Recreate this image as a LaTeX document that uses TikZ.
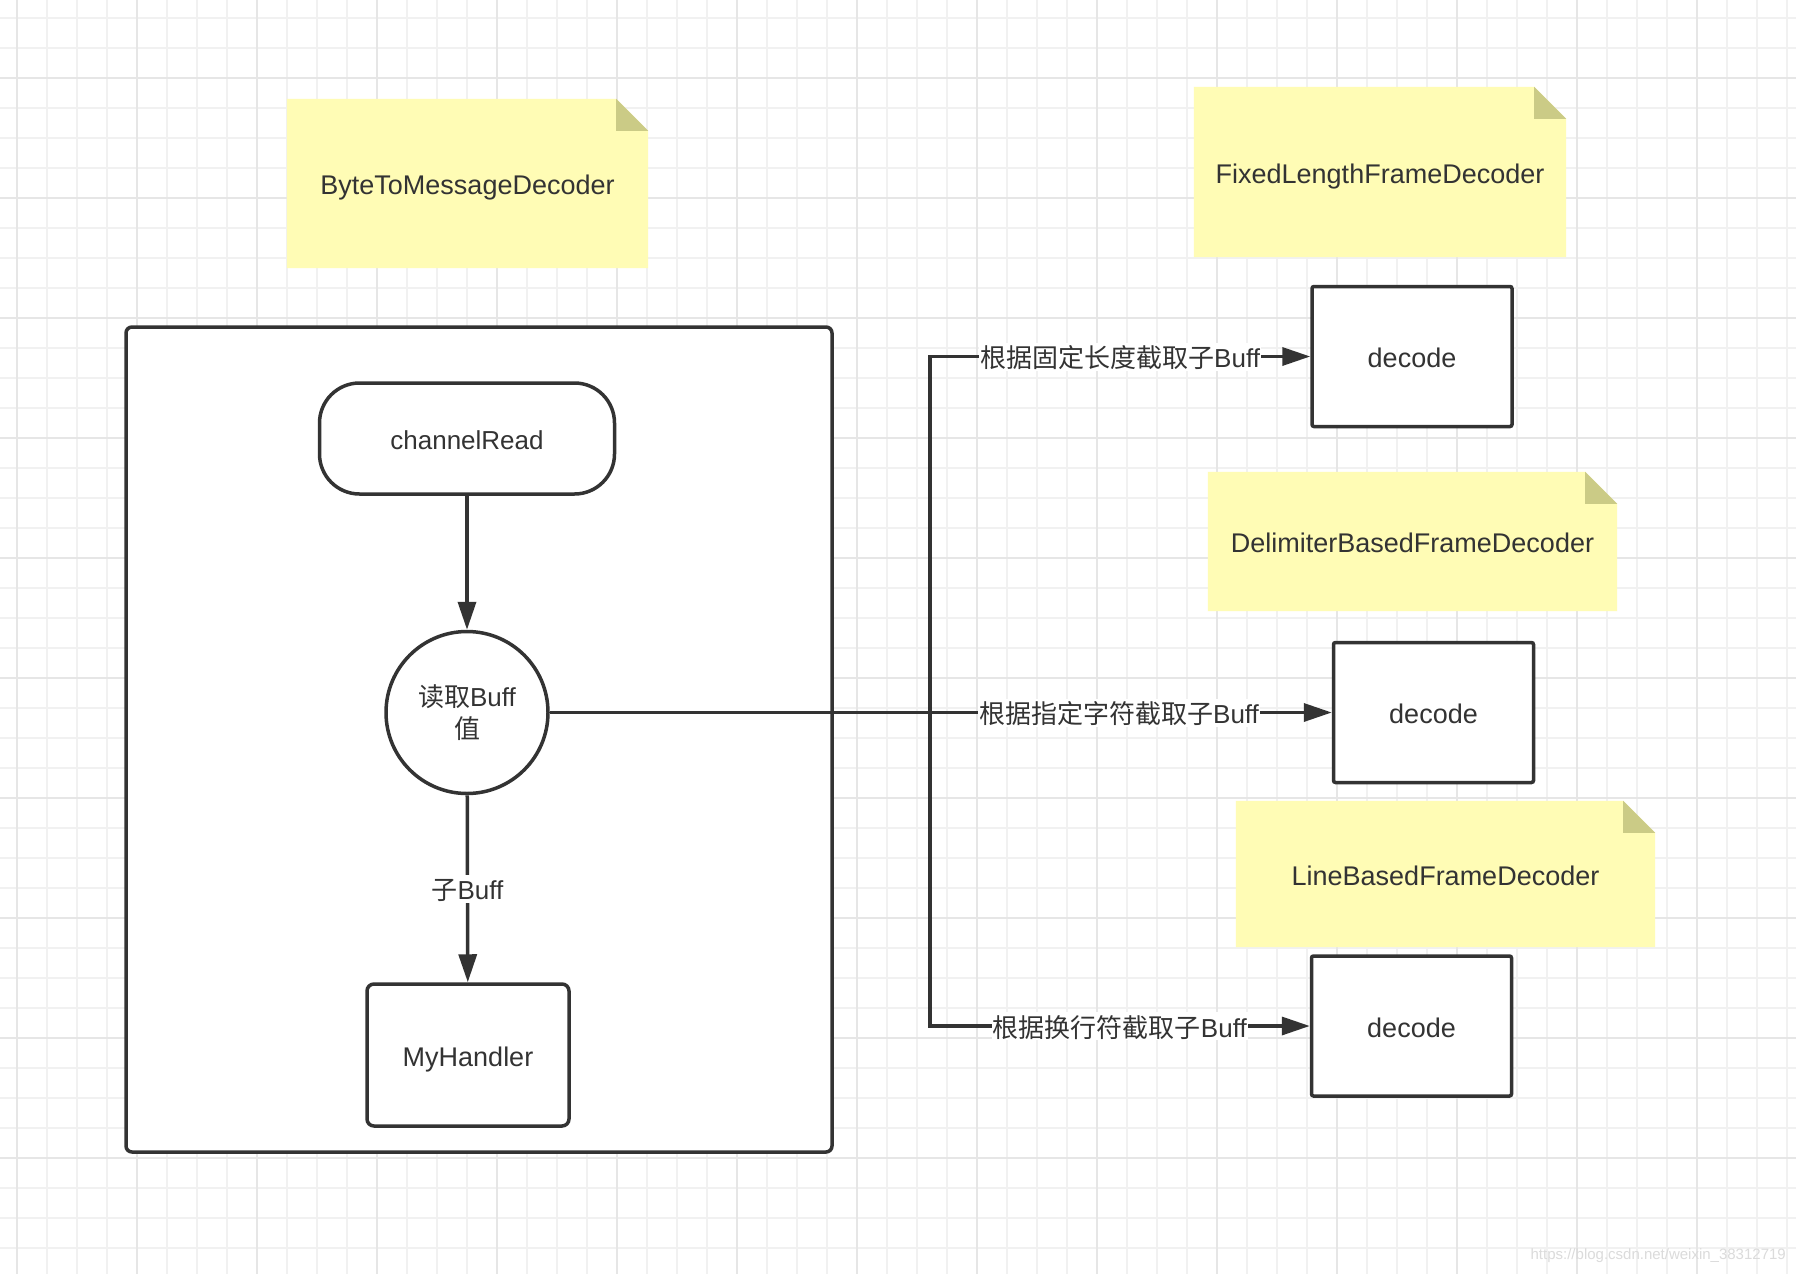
\documentclass[tikz,border=0pt]{standalone}
\usepackage{fontspec}
\setmainfont{Liberation Sans}
\newfontfamily\cjk{Noto Sans CJK SC}
\newfontfamily\wmfont{Liberation Sans}
\usetikzlibrary{arrows.meta}
\definecolor{ink}{HTML}{333333}
\definecolor{notebg}{HTML}{FFFCB5}
\definecolor{notefold}{HTML}{CBCB86}
\definecolor{gridminor}{HTML}{F1F1F1}
\definecolor{gridmajor}{HTML}{E6E6E6}
\pgfdeclarelayer{gridlayer}
\pgfdeclarelayer{notelayer}
\pgfsetlayers{gridlayer,notelayer,main}
\begin{document}
\begin{tikzpicture}[x=1pt,y=-1pt,
  every node/.style={font=\fontsize{26}{32}\selectfont, text=ink},
  bigtxt/.style={font=\fontsize{27}{32}\selectfont},
  txt/.style={text height=24pt, text depth=2pt},
  box/.style={draw=ink, line width=3.5pt, fill=white, inner sep=0pt, align=center},
  decodebox/.style={box, txt, bigtxt, rounded corners=2pt, minimum width=200pt, minimum height=140pt},
  notebox/.style={txt, bigtxt, draw=none, fill=none, inner sep=0pt, align=center},
  conn/.style={draw=ink, line width=3.5pt, -{Triangle[length=28pt,width=18pt]}},
  plainconn/.style={draw=ink, line width=3.5pt},
  lbl/.style={txt, fill=white, inner sep=1pt},
  minorline/.style={draw=gridminor, line width=2pt},
  majorline/.style={draw=gridmajor, line width=2pt}
]
\useasboundingbox (0,0) rectangle (1796,1274);

% grid
\begin{pgfonlayer}{gridlayer}
\fill[white] (0,0) rectangle (1796,1274);
\foreach \gx in {17,47,...,1787} \draw[minorline] (\gx,0) -- (\gx,1274);
\foreach \gy in {18,48,...,1268} \draw[minorline] (0,\gy) -- (1796,\gy);
\foreach \gx in {17,137,...,1697} \draw[majorline] (\gx,0) -- (\gx,1274);
\foreach \gy in {78,198,...,1158} \draw[majorline] (0,\gy) -- (1796,\gy);
\end{pgfonlayer}

% container
\node[box, rounded corners=6pt, minimum width=706pt, minimum height=825pt] (outer) at (479,739.5) {};

% notes
\node[notebox, minimum width=361pt, minimum height=169pt] (nbyte) at (467.5,183.5) {ByteToMessageDecoder};
\node[notebox, minimum width=372pt, minimum height=170pt] (nfixed) at (1380,172) {FixedLengthFrameDecoder};
\node[notebox, minimum width=409pt, minimum height=139pt] (ndelim) at (1412.5,541.5) {DelimiterBasedFrameDecoder};
\node[notebox, minimum width=419pt, minimum height=146pt] (nline) at (1445.5,874) {LineBasedFrameDecoder};

\begin{pgfonlayer}{notelayer}
\foreach \n in {nbyte,nfixed,ndelim,nline}{
  \fill[notebg] (\n.north west) -- ([xshift=-32pt]\n.north east) -- ([yshift=-32pt]\n.north east) -- (\n.south east) -- (\n.south west) -- cycle;
  \fill[notefold] ([xshift=-32pt]\n.north east) -- ([xshift=-32pt,yshift=-32pt]\n.north east) -- ([yshift=-32pt]\n.north east) -- cycle;
}
\end{pgfonlayer}

% flow nodes
\node[box, txt, rounded corners=40pt, minimum width=295pt, minimum height=111pt] (cr) at (467,438.5) {channelRead};
\node[box, circle, minimum size=162pt] (rb) at (467,712.5) {{\cjk 读取}Buff\\{\cjk 值}};
\node[box, txt, bigtxt, rounded corners=7pt, minimum width=202pt, minimum height=142pt] (mh) at (468,1055) {MyHandler};

\node[decodebox] (d1) at (1412,356.5) {decode};
\node[decodebox] (d2) at (1433.5,712.5) {decode};
\node[decodebox] (d3) at (1411.5,1026) {decode};

\coordinate (bus) at (930,712.5);

% connectors
\draw[conn] (cr) -- (rb);
\draw[conn] (rb) -- node[lbl]{{\cjk 子}Buff} (mh);
\draw[plainconn] (rb.east) -- (bus);
\draw[conn] (bus) |- node[lbl,pos=0.75]{{\cjk 根据固定长度截取子}Buff} (d1.west);
\draw[conn] (bus) |- node[lbl,pos=0.75]{{\cjk 根据换行符截取子}Buff} (d3.west);
\draw[conn] (rb.east) -- node[lbl,pos=0.728]{{\cjk 根据指定字符截取子}Buff} (d2.west);

% watermark
\node[font=\wmfont\fontsize{15}{18}\selectfont, text=black!14, anchor=east, inner sep=0pt] (wm) at (1786,1256) {https://blog.csdn.net/weixin\_38312719};
\end{tikzpicture}
\end{document}
